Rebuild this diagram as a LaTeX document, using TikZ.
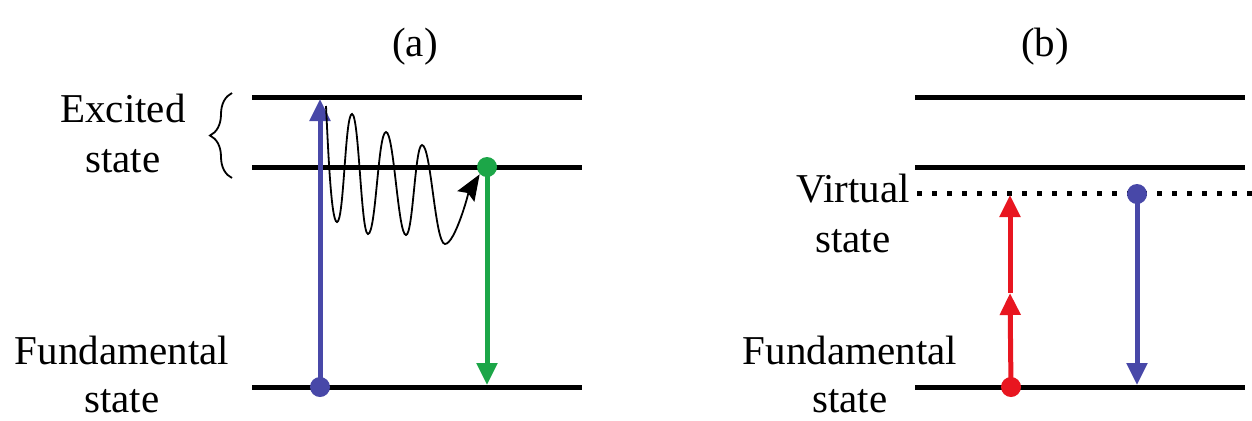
\documentclass[tikz,border=0pt]{standalone}
\usepackage{fontspec}
\setmainfont{Liberation Serif}
\usepackage{xcolor}
\usetikzlibrary{arrows.meta,positioning,decorations.pathreplacing}

\definecolor{pumpblue}{RGB}{72,72,168}
\definecolor{emitgreen}{RGB}{28,166,72}
\definecolor{pumpred}{RGB}{232,22,32}

\begin{document}
\begin{tikzpicture}[x=0.5pt, y=-0.5pt,
  level/.style={line width=2.5pt, black},
  virtual/.style={line width=2.5pt, dash pattern=on 2.5pt off 5pt},
  lbl/.style={font=\fontsize{20.5}{25}\selectfont, anchor=base},
  dot/.style={circle, fill=#1, inner sep=0pt, minimum size=10pt},
  trans/.style={line width=2.5pt, color=#1, shorten <=-2pt, -{Triangle[length=11pt,width=10pt]}},
  wave/.style={line width=0.9pt, -{Stealth[length=13pt,width=10pt,inset=2pt]}},
  brc/.style={decorate, decoration={brace, amplitude=11pt}, line width=0.9pt},
]
\useasboundingbox (0,0) rectangle (1252,420);

% titles
\node[lbl] (tita) at (415,56) {(a)};
\node[lbl] (titb) at (1045,56) {(b)};

% energy levels
\foreach \y in {97,167,387} {
  \draw[level] (252,\y) -- (582,\y);
  \draw[level] (915,\y) -- (1245,\y);
}
\draw[virtual] (917,193) -- (1252,193);

% labels (a)
\node[lbl] (exc1) at (123,122) {Excited};
\node[lbl] (exc2) at (123,172) {state};
\node[lbl] (funa1) at (122,364) {Fundamental};
\node[lbl] (funa2) at (122,412) {state};
\draw[brc] (232,178) -- (232,93);

% labels (b)
\node[lbl] (virt1) at (853,202) {Virtual};
\node[lbl] (virt2) at (853,252) {state};
\node[lbl] (funb1) at (850,364) {Fundamental};
\node[lbl] (funb2) at (850,412) {state};

% transitions (a)
\node[dot=pumpblue] (adot) at (320,387) {};
\coordinate (atop) at (320,99);
\draw[trans=pumpblue] (adot) -- (atop);

\node[dot=emitgreen] (gdot) at (487,167) {};
\coordinate (gbot) at (487,385);
\draw[trans=emitgreen] (gdot) -- (gbot);

% relaxation
\coordinate (wstart) at (326,106);
\draw[wave] (wstart) .. controls +(2,40) and +(-6,0) .. (337,222)
  .. controls +(7,0) and +(-7,0) .. (352,114)
  .. controls +(7,0) and +(-7,0) .. (368,234)
  .. controls +(8,0) and +(-8,0) .. (386,132)
  .. controls +(8,0) and +(-8,0) .. (406,235)
  .. controls +(7,0) and +(-7,0) .. (422,145)
  .. controls +(9,0) and +(-10,0) .. (445,244)
  .. controls +(10,0) and +(-10,16) .. (gdot.south west);

% transitions (b)
\node[dot=pumpred] (rdot) at (1011,387) {};
\coordinate (rmid) at (1010,293);
\coordinate (rtop) at (1010,195);
\draw[trans=pumpred] (rdot) -- (rmid);
\draw[trans=pumpred, shorten <=0pt] (rmid) -- (rtop);

\node[dot=pumpblue] (bdot) at (1137,194) {};
\coordinate (bbot) at (1137,385);
\draw[trans=pumpblue] (bdot) -- (bbot);
\end{tikzpicture}
\end{document}
